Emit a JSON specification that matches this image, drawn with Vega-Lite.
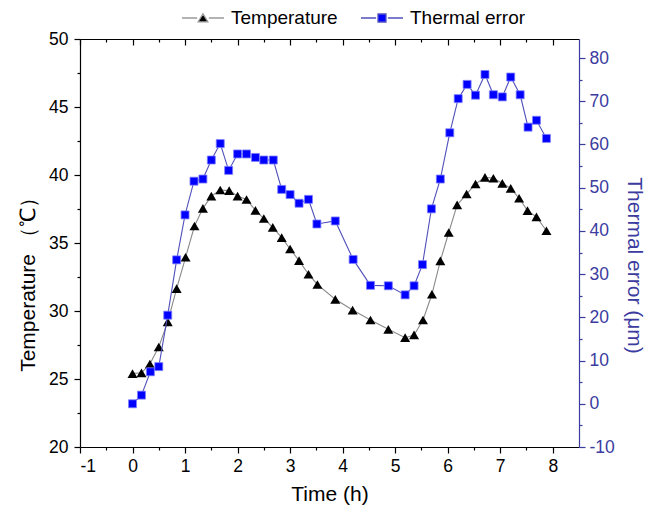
{
  "$schema": "https://vega.github.io/schema/vega-lite/v6.json",
  "width": 499,
  "height": 408,
  "autosize": "none",
  "padding": {"left": 80, "top": 39, "right": 80, "bottom": 64},
  "config": {
    "view": {"stroke": null},
    "font": "Liberation Sans",
    "axis": {
      "grid": false,
      "labelFont": "Liberation Sans",
      "titleFont": "Liberation Sans",
      "labelFontSize": 17.5,
      "titleFontSize": 21,
      "titleFontWeight": "normal",
      "tickColor": "#000000",
      "domainColor": "#000000",
      "labelColor": "#000000",
      "titleColor": "#000000",
      "tickWidth": 1.2,
      "domainWidth": 1.2,
      "labelExpr": "toString(datum.value)"
    }
  },
  "datasets": {
    "temp": [
      {"t": 0, "v": 25.4}, {"t": 0.17, "v": 25.45}, {"t": 0.33, "v": 26.1}, {"t": 0.5, "v": 27.35},
      {"t": 0.67, "v": 29.2}, {"t": 0.84, "v": 31.65}, {"t": 1.01, "v": 33.95}, {"t": 1.18, "v": 36.25},
      {"t": 1.34, "v": 37.55}, {"t": 1.5, "v": 38.45}, {"t": 1.67, "v": 38.9}, {"t": 1.84, "v": 38.85},
      {"t": 2.0, "v": 38.45}, {"t": 2.17, "v": 38.2}, {"t": 2.34, "v": 37.4}, {"t": 2.5, "v": 36.8},
      {"t": 2.67, "v": 36.15}, {"t": 2.84, "v": 35.4}, {"t": 3.0, "v": 34.56}, {"t": 3.17, "v": 33.7},
      {"t": 3.35, "v": 32.7}, {"t": 3.52, "v": 31.95}, {"t": 3.86, "v": 30.86}, {"t": 4.19, "v": 30.07},
      {"t": 4.53, "v": 29.34}, {"t": 4.87, "v": 28.65}, {"t": 5.19, "v": 28.04}, {"t": 5.36, "v": 28.24},
      {"t": 5.53, "v": 29.34}, {"t": 5.7, "v": 31.23}, {"t": 5.86, "v": 33.68}, {"t": 6.02, "v": 35.77},
      {"t": 6.18, "v": 37.8}, {"t": 6.36, "v": 38.6}, {"t": 6.53, "v": 39.34}, {"t": 6.71, "v": 39.83},
      {"t": 6.87, "v": 39.76}, {"t": 7.04, "v": 39.39}, {"t": 7.2, "v": 39.02}, {"t": 7.36, "v": 38.29},
      {"t": 7.52, "v": 37.38}, {"t": 7.69, "v": 36.92}, {"t": 7.88, "v": 35.9}
    ],
    "err": [
      {"t": 0, "v": 0.0}, {"t": 0.17, "v": 2.0}, {"t": 0.34, "v": 7.4}, {"t": 0.5, "v": 8.6},
      {"t": 0.67, "v": 20.5}, {"t": 0.84, "v": 33.3}, {"t": 1.0, "v": 43.7}, {"t": 1.17, "v": 51.5},
      {"t": 1.34, "v": 52.0}, {"t": 1.5, "v": 56.4}, {"t": 1.67, "v": 60.2}, {"t": 1.83, "v": 54.0},
      {"t": 2.0, "v": 57.8}, {"t": 2.17, "v": 57.8}, {"t": 2.34, "v": 57.0}, {"t": 2.5, "v": 56.4},
      {"t": 2.68, "v": 56.4}, {"t": 2.84, "v": 49.6}, {"t": 3.0, "v": 48.4}, {"t": 3.17, "v": 46.4},
      {"t": 3.35, "v": 47.3}, {"t": 3.51, "v": 41.6}, {"t": 3.86, "v": 42.3}, {"t": 4.2, "v": 33.4},
      {"t": 4.53, "v": 27.4}, {"t": 4.87, "v": 27.3}, {"t": 5.19, "v": 25.2}, {"t": 5.36, "v": 27.3},
      {"t": 5.52, "v": 32.2}, {"t": 5.69, "v": 45.1}, {"t": 5.86, "v": 52.0}, {"t": 6.04, "v": 62.7},
      {"t": 6.2, "v": 70.6}, {"t": 6.37, "v": 73.9}, {"t": 6.53, "v": 71.4}, {"t": 6.71, "v": 76.2},
      {"t": 6.87, "v": 71.5}, {"t": 7.04, "v": 71.0}, {"t": 7.2, "v": 75.6}, {"t": 7.38, "v": 71.5},
      {"t": 7.53, "v": 64.0}, {"t": 7.69, "v": 65.6}, {"t": 7.88, "v": 61.4}
    ]
  },
  "layer": [
    {
      "data": {"name": "temp"},
      "layer": [
        {
          "mark": {"type": "line", "color": "#8a8a8a", "strokeWidth": 1.1},
          "encoding": {
            "x": {"field": "t", "type": "quantitative", "scale": {"domain": [-1, 8.5], "nice": false, "zero": false},
              "axis": {"orient": "bottom", "values": [-1, 0, 1, 2, 3, 4, 5, 6, 7, 8], "tickSize": 6, "labelPadding": 4, "title": "Time (h)", "titlePadding": 9}},
            "y": {"field": "v", "type": "quantitative", "scale": {"domain": [20, 50], "nice": false, "zero": false},
              "axis": {"orient": "left", "values": [20, 25, 30, 35, 40, 45, 50], "tickSize": 6, "labelPadding": 6, "title": "Temperature （℃）", "titlePadding": 10, "titleY": 240}}
          }
        },
        {
          "mark": {"type": "point", "filled": true, "shape": "triangle-up", "size": 100, "opacity": 1},
          "encoding": {
            "x": {"field": "t", "type": "quantitative",
              "axis": {"orient": "bottom", "values": [-0.5, 0.5, 1.5, 2.5, 3.5, 4.5, 5.5, 6.5, 7.5], "tickSize": 3, "labels": false, "domain": false, "title": null}},
            "y": {"field": "v", "type": "quantitative",
              "axis": {"orient": "left", "values": [22.5, 27.5, 32.5, 37.5, 42.5, 47.5], "tickSize": 3, "labels": false, "domain": false, "title": null}},
            "color": {"datum": "Temperature", "type": "nominal",
              "scale": {"domain": ["Temperature", "Thermal error"], "range": ["#000000", "#0000ff"]},
              "legend": {
                "orient": "none", "legendX": 101, "legendY": -43, "direction": "horizontal", "title": null,
                "symbolSize": 1764, "labelFontSize": 19, "labelFont": "Liberation Sans", "labelColor": "#000000",
                "labelOffset": 6, "columnPadding": 20,
                "encoding": {"symbols": {
                  "shape": {"value": {"expr": "datum.value === 'Temperature' ? 'M-1,0H-0.28M0.28,0H1M0,-0.2L0.23,0.18H-0.23Z' : 'M-1,0H-0.28M0.28,0H1M-0.19,-0.19H0.19V0.19H-0.19Z'"}},
                  "stroke": {"value": {"expr": "datum.value === 'Temperature' ? '#9a9a9a' : '#5252c0'"}},
                  "strokeWidth": {"value": 1.3},
                  "fillOpacity": {"value": 1},
                  "opacity": {"value": 1}
                }}
              }}
          }
        }
      ],
      "resolve": {"axis": {"x": "independent", "y": "independent"}}
    },
    {
      "data": {"name": "err"},
      "layer": [
        {
          "mark": {"type": "line", "color": "#5050bb", "strokeWidth": 1.1},
          "encoding": {
            "x": {"field": "t", "type": "quantitative",
              "axis": {"orient": "top", "values": [-1, 0, 1, 2, 3, 4, 5, 6, 7, 8], "tickSize": -6, "labels": false, "title": null}},
            "y": {"field": "v", "type": "quantitative", "scale": {"domain": [-10, 84.4], "nice": false, "zero": false},
              "axis": {"orient": "right", "values": [-10, 0, 10, 20, 30, 40, 50, 60, 70, 80], "tickSize": 6, "labelPadding": 4,
                "title": "Thermal error (μm)", "titlePadding": 9, "titleY": 226,
                "domainColor": "#3b3ba0", "tickColor": "#3b3ba0", "labelColor": "#3b3ba0", "titleColor": "#3b3ba0"}}
          }
        },
        {
          "mark": {"type": "point", "filled": true, "shape": "square", "size": 64, "opacity": 1, "stroke": "#8080ff", "strokeWidth": 0.8},
          "encoding": {
            "x": {"field": "t", "type": "quantitative",
              "axis": {"orient": "top", "values": [-0.5, 0.5, 1.5, 2.5, 3.5, 4.5, 5.5, 6.5, 7.5], "tickSize": -3, "labels": false, "domain": false, "title": null}},
            "y": {"field": "v", "type": "quantitative",
              "axis": {"orient": "right", "values": [-5, 5, 15, 25, 35, 45, 55, 65, 75], "tickSize": 3, "labels": false, "domain": false, "title": null, "tickColor": "#3b3ba0"}},
            "color": {"datum": "Thermal error", "type": "nominal"}
          }
        }
      ],
      "resolve": {"axis": {"x": "independent", "y": "independent"}}
    }
  ],
  "resolve": {"scale": {"y": "independent"}, "axis": {"x": "independent", "y": "independent"}}
}
